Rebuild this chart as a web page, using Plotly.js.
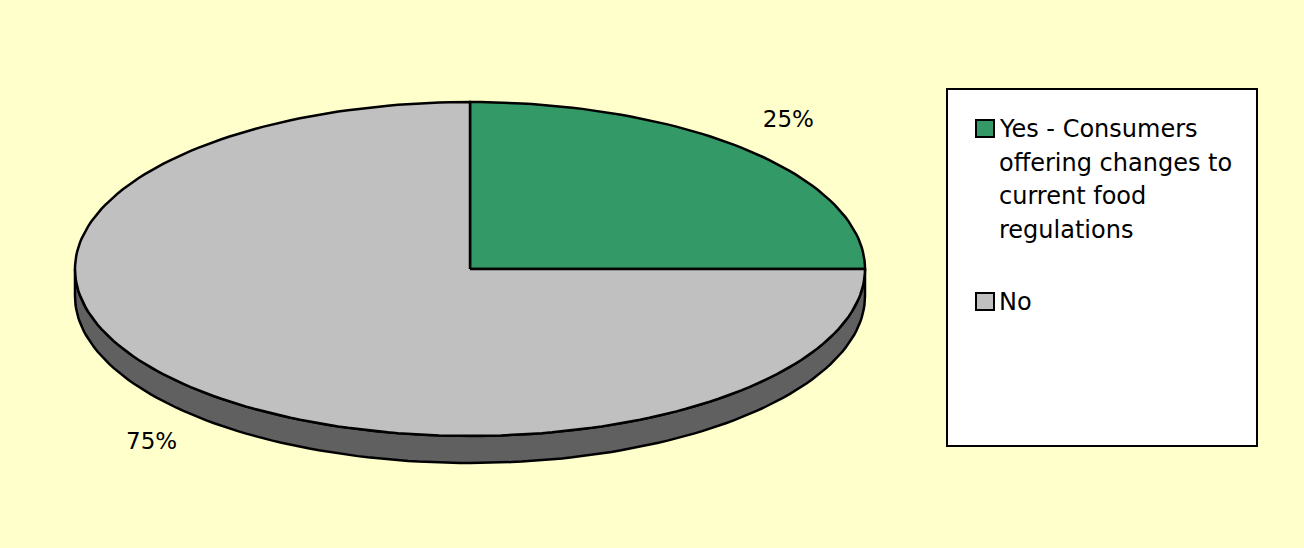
<!DOCTYPE html>
<html>
<head>
<meta charset="utf-8">
<script src="https://cdn.plot.ly/plotly-3.0.1.min.js"></script>
<style>html,body{margin:0;padding:0;background:#FFFFCC;}#chart{width:1304px;height:548px;}</style>
</head>
<body>
<div id="chart"></div>
<script>
// ---- data ----
const categories = ["Yes - Consumers offering changes to current food regulations", "No"];
const legendLines = [["Yes - Consumers", "offering changes to", "current food", "regulations"], ["No"]];
const values = [25, 75];
const topColors = ["#339966", "#C0C0C0"];
const sideColors = ["#1F5C3D", "#606060"];

// ---- geometry (layout, in pixel-like axis units) ----
const W = 1304, H = 548;
const cx = 470, cy = 269, rx = 395, ry = 167, depth = 27;
const font = "DejaVu Sans, Verdana, sans-serif";

const total = values.reduce((a, b) => a + b, 0);
function pt(thetaDeg, dy) {
  const t = thetaDeg * Math.PI / 180;
  return [cx + rx * Math.sin(t), cy - ry * Math.cos(t) + (dy || 0)];
}
function arc(a0, a1, dy) {
  const n = Math.max(2, Math.ceil(Math.abs(a1 - a0) / 1.5));
  const out = [];
  for (let i = 0; i <= n; i++) out.push(pt(a0 + (a1 - a0) * i / n, dy));
  return out;
}

const traces = [];
let acc = 0;
const slices = values.map((v, i) => {
  const a0 = acc / total * 360;
  acc += v;
  const a1 = acc / total * 360;
  return { a0, a1, i, v };
});

// sides (front half only)
slices.forEach(s => {
  const st = Math.max(s.a0, 90), en = Math.min(s.a1, 270);
  if (en - st <= 0.01) return;
  const top = arc(st, en, 0);
  const bot = arc(en, st, depth);
  const poly = top.concat(bot);
  poly.push(top[0]);
  traces.push({
    type: "scatter", mode: "lines", fill: "toself",
    x: poly.map(p => p[0]), y: poly.map(p => p[1]),
    fillcolor: sideColors[s.i], line: { color: "#000", width: 2.5 },
    hoverinfo: "skip", showlegend: false
  });
});

// top faces
slices.forEach(s => {
  const poly = [[cx, cy]].concat(arc(s.a0, s.a1, 0));
  poly.push([cx, cy]);
  traces.push({
    type: "scatter", mode: "lines", fill: "toself",
    x: poly.map(p => p[0]), y: poly.map(p => p[1]),
    fillcolor: topColors[s.i], line: { color: "#000", width: 2.5 },
    hoverinfo: "skip", showlegend: false, name: categories[s.i]
  });
});

// percentage labels
const lx = [], ly = [], lt = [];
slices.forEach(s => {
  const m = (s.a0 + s.a1) / 2 * Math.PI / 180;
  const c = Math.cos(m);
  lx.push(cx + rx * 1.14 * Math.sin(m));
  ly.push(cy - ry * 1.25 * c + (c < 0 ? depth : 0));
  lt.push(Math.round(s.v / total * 100) + "%");
});
traces.push({
  type: "scatter", mode: "text", x: lx, y: ly, text: lt,
  textposition: "middle center",
  textfont: { family: font, size: 23, color: "#000" },
  hoverinfo: "skip", showlegend: false
});

// custom legend
const shapes = [{
  type: "rect", xref: "x", yref: "y", x0: 947, x1: 1257, y0: 89, y1: 446,
  line: { color: "#000", width: 2 }, fillcolor: "#FFFFFF", layer: "below"
}];
const annotations = [];
const itemTop = [119, 292];
const lineGap = 33.5;
legendLines.forEach((lines, i) => {
  shapes.push({
    type: "rect", xref: "x", yref: "y", x0: 976, x1: 994, y0: itemTop[i] + 1, y1: itemTop[i] + 18,
    line: { color: "#000", width: 2 }, fillcolor: topColors[i]
  });
  lines.forEach((ln, j) => {
    annotations.push({
      xref: "x", yref: "y", x: 997, y: itemTop[i] + 10 + j * lineGap,
      xanchor: "left", yanchor: "middle", showarrow: false, text: ln,
      font: { family: font, size: 24, color: "#000" }
    });
  });
});

const layout = {
  width: W, height: H,
  margin: { l: 0, r: 0, t: 0, b: 0 },
  paper_bgcolor: "#FFFFCC", plot_bgcolor: "rgba(0,0,0,0)",
  xaxis: { range: [0, W], visible: false, fixedrange: true },
  yaxis: { range: [H, 0], visible: false, fixedrange: true },
  showlegend: false,
  shapes: shapes, annotations: annotations
};
Plotly.newPlot("chart", traces, layout, { displayModeBar: false, staticPlot: true });
</script>
</body>
</html>
